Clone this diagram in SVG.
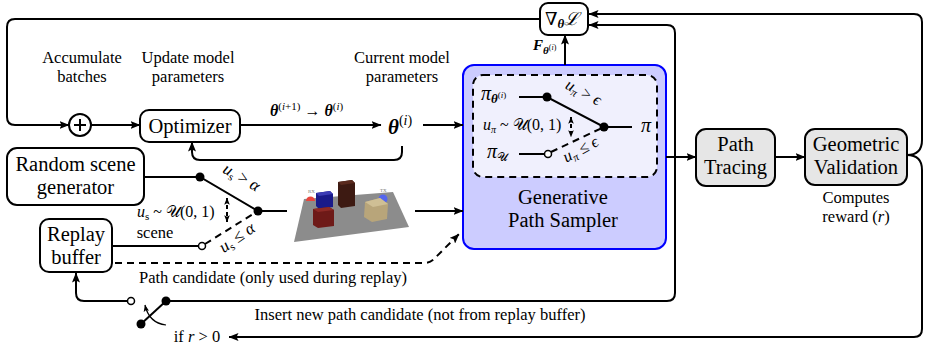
<svg xmlns="http://www.w3.org/2000/svg" width="925" height="346" viewBox="0 0 925 346">
  <defs>
    <marker id="arr" viewBox="0 0 10 8" refX="9.5" refY="4" markerWidth="10" markerHeight="8" orient="auto" markerUnits="userSpaceOnUse">
      <path d="M0,0 L10,4 L0,8 L2,4 Z" fill="#000"/>
    </marker>
    <marker id="arrs" viewBox="0 0 10 8" refX="9.5" refY="4" markerWidth="7" markerHeight="6" orient="auto-start-reverse" markerUnits="userSpaceOnUse">
      <path d="M0,0 L10,4 L0,8 L2,4 Z" fill="#000"/>
    </marker>
    <style>
      text { font-family: "Liberation Serif", "DejaVu Serif", serif; fill: #000; }
      .box { fill: #fff; stroke: #000; stroke-width: 2; }
      .gbox { fill: #e6e6e6; stroke: #000; stroke-width: 2; }
      .big { font-size: 20.5px; text-anchor: middle; }
      .lab { font-size: 16.5px; text-anchor: middle; }
      .sm { font-size: 16px; }
      .it { font-style: italic; }
      .bi { font-style: italic; font-weight: bold; }
      .ln { fill: none; stroke: #000; stroke-width: 2; }
      .dash { fill: none; stroke: #000; stroke-width: 2; stroke-dasharray: 7 5; }
      .dot { fill: #000; }
      .odot { fill: #fff; stroke: #000; stroke-width: 1.5; }
    </style>
  </defs>

  <!-- labels above the optimizer row and along the lower loops -->
  <g id="labels">
    <text class="lab" x="82" y="63">Accumulate</text>
    <text class="lab" x="82" y="82">batches</text>
    <text class="lab" x="188" y="63">Update model</text>
    <text class="lab" x="188" y="82">parameters</text>
    <text class="lab" x="402" y="63">Current model</text>
    <text class="lab" x="402" y="82">parameters</text>
    <text class="sm" x="270" y="116" font-size="15"><tspan class="bi">θ</tspan><tspan font-size="11" dy="-6">(<tspan class="it">i</tspan>+1)</tspan><tspan dy="6"> → </tspan><tspan class="bi">θ</tspan><tspan font-size="11" dy="-6">(<tspan class="it">i</tspan>)</tspan></text>
    <text class="lab" x="273" y="283">Path candidate (only used during replay)</text>
    <text class="lab" x="420" y="320">Insert new path candidate (not from replay buffer)</text>
    <text class="lab" x="197" y="342">if <tspan class="it">r</tspan> &gt; 0</text>
    <text class="lab" x="856" y="203">Computes</text>
    <text class="lab" x="856" y="222">reward (<tspan class="it">r</tspan>)</text>
    <text class="lab" x="155" y="238">scene</text>
    <text x="137" y="217" font-size="16"><tspan class="it">u</tspan><tspan font-size="11" dy="3">s</tspan><tspan dy="-3"> ~ 𝒰(0, 1)</tspan></text>
    <text x="533" y="50" font-size="15"><tspan class="bi">F</tspan><tspan class="bi" font-size="11" dy="4">θ</tspan><tspan font-size="8" dy="-4">(<tspan class="it">i</tspan>)</tspan></text>
  </g>

  <!-- sum node -->
  <g id="sum">
    <circle cx="80" cy="125" r="11" class="box"/>
    <path d="M74,125 H86 M80,119 V131" class="ln" stroke-width="1.5"/>
  </g>

  <g id="optimizer">
    <rect x="140" y="110" width="100" height="32" rx="9" class="box"/>
    <text class="big" x="190" y="133">Optimizer</text>
  </g>

  <g id="theta">
    <text x="388" y="134" font-size="21"><tspan class="bi">θ</tspan><tspan font-size="14" dy="-9">(<tspan class="it">i</tspan>)</tspan></text>
  </g>

  <g id="gradient">
    <rect x="540" y="3" width="48" height="32" rx="8" class="box"/>
    <text x="545" y="25" font-size="18">∇<tspan class="bi" font-size="13" dy="3">θ</tspan><tspan font-family="DejaVu Serif" font-style="italic" dy="-3">ℒ</tspan></text>
  </g>

  <g id="random-scene">
    <rect x="7" y="148" width="137" height="57" rx="10" class="box"/>
    <text class="big" x="75.5" y="171">Random scene</text>
    <text class="big" x="75.5" y="194">generator</text>
  </g>

  <g id="replay-buffer">
    <rect x="40" y="219" width="72" height="53" rx="9" class="box"/>
    <text class="big" x="76" y="241">Replay</text>
    <text class="big" x="76" y="264">buffer</text>
  </g>

  <!-- rendered scene thumbnail -->
  <g id="scene">
    <polygon points="304,199 393,192 409,227 294,242" fill="#8c8c8c"/>
    <path d="M306,201 A4.5,4.5 0 0 1 315,201 Z" fill="#e8453c"/>
    <text x="308" y="193" font-size="5" style="fill:#777">RX</text>
    <circle cx="383" cy="199" r="4.5" fill="#5566ee"/>
    <text x="380" y="192" font-size="5" style="fill:#777">TX</text>
    <!-- tall dark box -->
    <polygon points="338,182 352,180 355,183 355,206 341,208 338,205" fill="#3d1a12"/>
    <polygon points="338,182 352,180 355,183 341,185" fill="#5a2a1e"/>
    <!-- blue cube -->
    <polygon points="316,193 330,191 333,194 333,207 319,209 316,206" fill="#1a1a8a"/>
    <polygon points="316,193 330,191 333,194 319,196" fill="#3b3bb5"/>
    <!-- red box -->
    <polygon points="313,209 329,207 334,210 334,226 318,228 313,225" fill="#6e1a18"/>
    <polygon points="313,209 329,207 334,210 318,212" fill="#8e2a26"/>
    <!-- tan box -->
    <polygon points="365,202 380,198 388,204 387,219 372,222 364,217" fill="#b8a57a"/>
    <polygon points="365,202 380,198 388,204 373,207" fill="#cfbf95"/>
  </g>

  <g id="path-sampler">
    <rect x="463" y="65" width="203" height="184" rx="11" fill="#ccccff" stroke="#0000ff" stroke-width="2"/>
    <rect x="473" y="75" width="184" height="102" rx="10" fill="#f0f0fd" stroke="#000" stroke-width="2" stroke-dasharray="7 5"/>
    <text x="481" y="100" font-size="20"><tspan class="it">π</tspan><tspan class="bi" font-size="13" dy="3">θ</tspan><tspan font-size="9" dy="-5">(<tspan class="it">i</tspan>)</tspan></text>
    <text x="483" y="130" font-size="16"><tspan class="it">u</tspan><tspan class="it" font-size="10" dy="3">π</tspan><tspan dy="-3"> ~ 𝒰(0, 1)</tspan></text>
    <text x="487" y="158" font-size="20"><tspan class="it">π</tspan><tspan font-size="12" dy="3">𝒰</tspan></text>
    <text x="641" y="132" font-size="20" class="it">π</text>
    <path d="M519,97 H547 L604,127 H632" class="ln"/>
    <circle cx="547" cy="97" r="4.5" class="dot"/>
    <circle cx="604" cy="127" r="4.5" class="dot"/>
    <path d="M519,154 H544.5" class="ln"/>
    <circle cx="548" cy="154" r="3.5" class="odot"/>
    <path d="M551,152 L604,127" class="dash"/>
    <path d="M571,117 V137" class="ln" stroke-width="1.5" stroke-dasharray="4 3" marker-start="url(#arrs)" marker-end="url(#arrs)"/>
    <text transform="translate(581,97) rotate(28)" font-size="16.5" text-anchor="middle"><tspan class="it">u</tspan><tspan class="it" font-size="11" dy="3">π</tspan><tspan dy="-3"> &gt; </tspan><tspan class="it">ϵ</tspan></text>
    <text transform="translate(583,154) rotate(-28)" font-size="16.5" text-anchor="middle"><tspan class="it">u</tspan><tspan class="it" font-size="11" dy="3">π</tspan><tspan dy="-3"> ≤ </tspan><tspan class="it">ϵ</tspan></text>
    <text class="big" x="563" y="204">Generative</text>
    <text class="big" x="563" y="227">Path Sampler</text>
  </g>

  <g id="path-tracing">
    <rect x="696" y="129" width="79" height="57" rx="10" class="gbox"/>
    <text class="big" x="735.5" y="151">Path</text>
    <text class="big" x="735.5" y="174">Tracing</text>
  </g>

  <g id="geometric-validation">
    <rect x="805" y="129" width="102" height="56" rx="10" class="gbox"/>
    <text class="big" x="856" y="151">Geometric</text>
    <text class="big" x="856" y="174">Validation</text>
  </g>

  <g id="connectors">
    <!-- gradient feedback into the accumulator -->
    <path d="M540,19 H15 Q7,19 7,27 V117 Q7,125 15,125 H69" class="ln" marker-end="url(#arr)"/>
    <path d="M91,125 H140" class="ln" marker-end="url(#arr)"/>
    <path d="M240,125 H381" class="ln" marker-end="url(#arr)"/>
    <path d="M423,125 H463" class="ln" marker-end="url(#arr)"/>
    <path d="M402,146 V152 Q402,160 394,160 H200 Q192,160 192,152 V142" class="ln" marker-end="url(#arr)"/>

    <!-- scene source switch -->
    <path d="M144,177 H200 L258,211 H287" class="ln"/>
    <circle cx="200" cy="177" r="4.5" class="dot"/>
    <circle cx="258" cy="211" r="4.5" class="dot"/>
    <path d="M112,246 H198.5" class="ln"/>
    <circle cx="202" cy="246" r="3.5" class="odot"/>
    <path d="M205,244 L258,211" class="dash"/>
    <path d="M227,198 V222" class="ln" stroke-width="1.5" stroke-dasharray="4 3" marker-start="url(#arrs)" marker-end="url(#arrs)"/>
    <text transform="translate(239,182) rotate(30)" font-size="17" text-anchor="middle"><tspan class="it">u</tspan><tspan font-size="11" dy="3">s</tspan><tspan dy="-3"> &gt; </tspan><tspan class="it">α</tspan></text>
    <text transform="translate(240,242) rotate(-35)" font-size="17" text-anchor="middle"><tspan class="it">u</tspan><tspan font-size="11" dy="3">s</tspan><tspan dy="-3"> ≤ </tspan><tspan class="it">α</tspan></text>
    <path d="M415,211 H463" class="ln" marker-end="url(#arr)"/>

    <!-- replayed path candidate -->
    <path d="M115,263 H424 Q431,263 436,257 L459,234" class="dash" marker-end="url(#arr)"/>

    <!-- sampler pipeline -->
    <path d="M666,157 H696" class="ln" marker-end="url(#arr)"/>
    <path d="M775,157 H805" class="ln" marker-end="url(#arr)"/>
    <path d="M565,65 V35" class="ln" marker-end="url(#arr)"/>

    <!-- reward feedback -->
    <path d="M907,155 C917,155 922,150 922,140 V22 Q922,14 914,14 H589" class="ln" marker-end="url(#arr)"/>
    <path d="M907,155 C917,155 922,160 922,170 V329 Q922,337 914,337 H229" class="ln" marker-end="url(#arr)"/>

    <!-- insert switch into replay buffer -->
    <path d="M166,301 H667 Q675,301 675,293 V33 Q675,25 667,25 H589" class="ln" marker-end="url(#arr)"/>
    <path d="M141,324 L166,301" class="ln"/>
    <circle cx="166" cy="301" r="4.5" class="dot"/>
    <circle cx="141" cy="324" r="4.5" class="dot"/>
    <path d="M127.5,301 H84 Q76,301 76,293 V273" class="ln" marker-end="url(#arr)"/>
    <circle cx="131" cy="301" r="3.5" class="odot"/>
    <path d="M166,325 Q149,323 145,305" fill="none" stroke="#000" stroke-width="1.2" marker-end="url(#arrs)"/>
  </g>
</svg>
